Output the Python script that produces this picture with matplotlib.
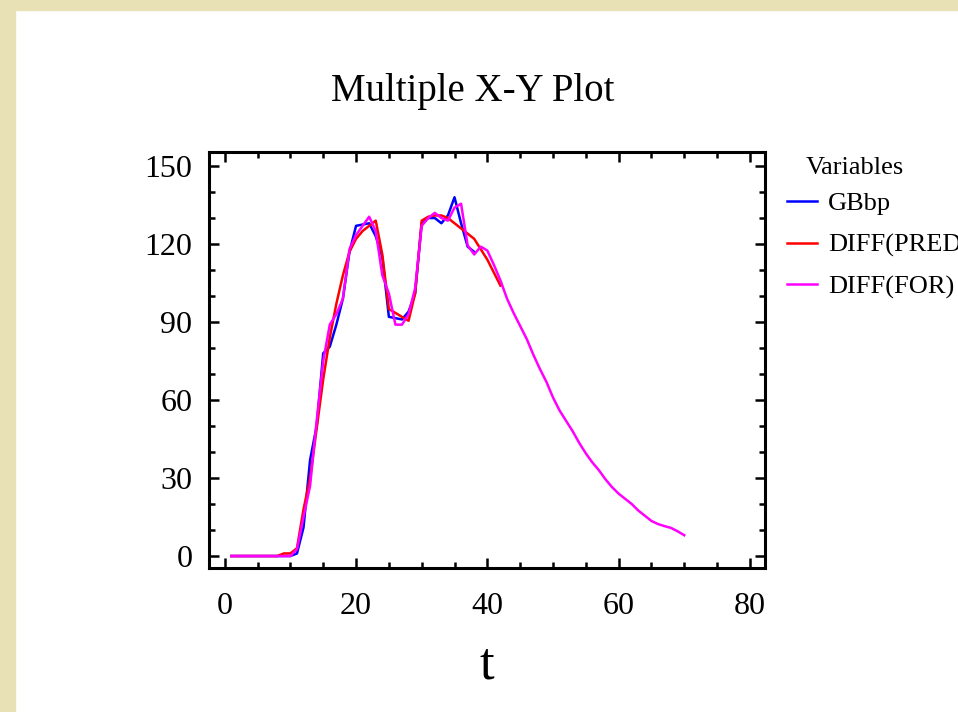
import matplotlib
matplotlib.use('Agg')
import matplotlib.pyplot as plt
from matplotlib.patches import Rectangle
from matplotlib.ticker import MultipleLocator

# data
t_gbbp = list(range(1, 39))
gbbp = [0, 0, 0, 0, 0, 0, 0, 0, 0, 0,
        1, 11, 37, 50, 78, 80.5, 89, 99, 117, 127,
        127.5, 128, 123, 115, 92, 91.5, 91, 94, 101, 128,
        130, 130, 128, 131, 138, 128, 119, 117]

t_pred = list(range(1, 43))
diff_pred = [0, 0, 0, 0, 0, 0, 0, 0, 1, 1,
             3, 18, 30, 49, 68, 84, 97, 108, 117, 122,
             125, 127, 129, 116, 95, 93.5, 92, 90.5, 101, 129,
             130.5, 131, 131, 130, 128, 126, 124, 122, 118, 114,
             109, 104]

t_for = list(range(1, 71))
diff_for = [0, 0, 0, 0, 0, 0, 0, 0, 0, 0,
            2.6, 15, 27, 52, 75, 89, 93, 99, 118, 123.5,
            127, 130.5, 125, 108, 101, 89, 89, 93, 103, 127,
            130, 132, 130, 129, 134, 135.5, 119.5, 116, 119, 117.5,
            112, 106, 99, 93.5, 88.5, 83.5, 77.5, 72, 67, 61,
            56, 52, 48, 43.5, 39.5, 36, 33, 29.5, 26.5, 24,
            22, 20, 17.5, 15.5, 13.5, 12.3, 11.5, 10.8, 9.5, 8]

series_names = ['GBbp', 'DIFF(PRED)', 'DIFF(FOR)']
series_colors = ['#0000FF', '#FF0000', '#FF00FF']

SERIF = ['Liberation Serif', 'DejaVu Serif']


def do_plot():
    fig = plt.figure(figsize=(9.58, 7.12), dpi=100)
    fig.patch.set_facecolor('white')

    # beige frame on top and left edge
    beige = '#E8E1B6'
    fig.patches.append(Rectangle((0, 1 - 10 / 712), 1, 10 / 712,
                                 transform=fig.transFigure, color=beige, zorder=0))
    fig.patches.append(Rectangle((0, 0), 15 / 958, 1,
                                 transform=fig.transFigure, color=beige, zorder=0))

    ax = fig.add_axes([209 / 958, 1 - 568 / 712, (765 - 209) / 958, (568 - 152) / 712])

    lines = []
    for (xs, ys), name, color in zip([(t_gbbp, gbbp), (t_pred, diff_pred), (t_for, diff_for)],
                                     series_names, series_colors):
        line, = ax.plot(xs, ys, color=color, lw=1.8, label=name)
        lines.append(line)

    ax.set_xlim(-2.4, 82.3)
    ax.set_ylim(-4.6, 155.4)
    ax.xaxis.set_major_locator(MultipleLocator(20))
    ax.xaxis.set_minor_locator(MultipleLocator(5))
    ax.yaxis.set_major_locator(MultipleLocator(30))
    ax.yaxis.set_minor_locator(MultipleLocator(10))

    for spine in ax.spines.values():
        spine.set_linewidth(2.2)
    ax.tick_params(which='both', direction='in', top=True, right=True, width=1.8)
    ax.tick_params(which='major', length=7)
    ax.tick_params(which='minor', length=4)
    ax.tick_params(axis='x', which='major', pad=17)
    ax.tick_params(axis='y', which='major', pad=12)
    for lab in ax.get_xticklabels() + ax.get_yticklabels():
        lab.set_family(SERIF)
        lab.set_fontsize(23)

    ax.set_xlabel('t', family=SERIF, fontsize=38, labelpad=15)
    fig.text(473 / 958, 1 - 92 / 712, 'Multiple X-Y Plot', family=SERIF,
             fontsize=28, ha='center', va='center')

    # legend to the right of the plot
    fig.text(806 / 958, 1 - 168 / 712, 'Variables', family=SERIF,
             fontsize=19, ha='left', va='center')
    fig.legend(lines, series_names, loc='upper left',
               bbox_to_anchor=(787 / 958, 1 - 192 / 712),
               frameon=False, borderpad=0, borderaxespad=0,
               handlelength=1.15, handletextpad=0.4, labelspacing=0.68,
               prop={'family': SERIF, 'size': 19})

    fig.savefig('out.png', dpi=100)


if __name__ == '__main__':
    do_plot()
